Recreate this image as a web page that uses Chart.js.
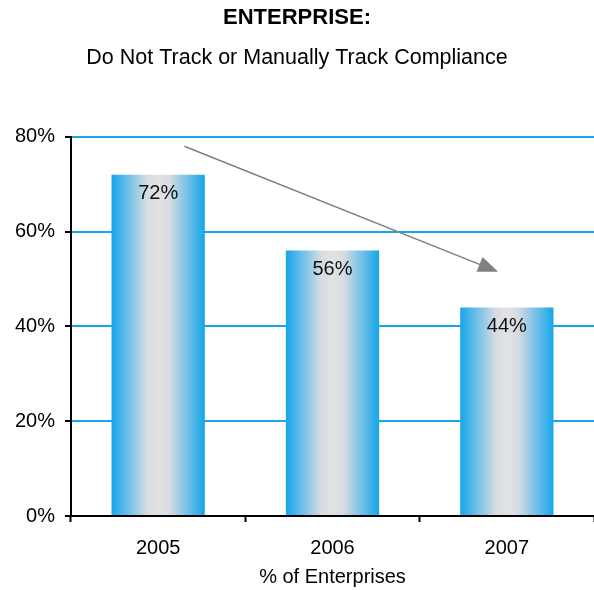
<!DOCTYPE html>
<html>
<head>
<meta charset="utf-8">
<script src="https://cdn.jsdelivr.net/npm/chart.js@4.4.0/dist/chart.umd.min.js"></script>
<style>
  html, body { margin: 0; padding: 0; background: #fff; overflow: hidden; }
  #wrap { width: 594px; height: 590px; position: relative; }
</style>
</head>
<body>
<div id="wrap"><canvas id="chart"></canvas></div>
<script>
const years = ['2005', '2006', '2007'];
const shares = [72, 56, 44];
const yTicks = [0, 20, 40, 60, 80];
// trend arrow, in data units (category index, percent)
const arrowFrom = [0.15, 78];
const arrowTo = [1.95, 51.5];

const FONT = "'Liberation Sans', Arial, sans-serif";
const GRID_BLUE = '#14a8e8';

function barGradient(context) {
  const chart = context.chart;
  const x = chart.scales.x;
  if (!chart.chartArea || !x) return '#16a6e8';
  const center = x.getPixelForValue(context.dataIndex);
  const half = (x.width / years.length) * 0.535 / 2;
  const g = chart.ctx.createLinearGradient(center - half, 0, center + half, 0);
  g.addColorStop(0, '#16a6e8');
  g.addColorStop(0.12, '#52b6ea');
  g.addColorStop(0.38, '#d6dce2');
  g.addColorStop(0.5, '#e2e2e2');
  g.addColorStop(0.62, '#d6dce2');
  g.addColorStop(0.88, '#52b6ea');
  g.addColorStop(1, '#16a6e8');
  return g;
}

const labelsPlugin = {
  id: 'valueLabels',
  afterDatasetsDraw(chart) {
    const { ctx } = chart;
    const meta = chart.getDatasetMeta(0);
    ctx.save();
    ctx.font = '20px ' + FONT;
    ctx.fillStyle = '#111';
    ctx.textAlign = 'center';
    ctx.textBaseline = 'middle';
    meta.data.forEach((bar, i) => {
      ctx.fillText(shares[i] + '%', bar.x, bar.y + 19);
    });
    ctx.restore();
  }
};

const arrowPlugin = {
  id: 'trendArrow',
  afterDraw(chart) {
    const { ctx, scales } = chart;
    const x1 = scales.x.getPixelForValue(arrowFrom[0]);
    const y1 = scales.y.getPixelForValue(arrowFrom[1]);
    const x2 = scales.x.getPixelForValue(arrowTo[0]);
    const y2 = scales.y.getPixelForValue(arrowTo[1]);
    const ang = Math.atan2(y2 - y1, x2 - x1);
    const head = 20, wing = 8;
    ctx.save();
    ctx.strokeStyle = '#808080';
    ctx.fillStyle = '#808080';
    ctx.lineWidth = 1.5;
    ctx.beginPath();
    ctx.moveTo(x1, y1);
    ctx.lineTo(x2 - head * 0.8 * Math.cos(ang), y2 - head * 0.8 * Math.sin(ang));
    ctx.stroke();
    const bx = x2 - head * Math.cos(ang), by = y2 - head * Math.sin(ang);
    ctx.beginPath();
    ctx.moveTo(x2, y2);
    ctx.lineTo(bx + wing * Math.sin(ang), by - wing * Math.cos(ang));
    ctx.lineTo(bx - wing * Math.sin(ang), by + wing * Math.cos(ang));
    ctx.closePath();
    ctx.fill();
    ctx.restore();
  }
};

new Chart(document.getElementById('chart'), {
  type: 'bar',
  data: {
    labels: years,
    datasets: [{
      data: shares,
      backgroundColor: barGradient,
      borderWidth: 0,
      barPercentage: 0.535,
      categoryPercentage: 1
    }]
  },
  options: {
    responsive: true,
    maintainAspectRatio: false,
    animation: false,
    layout: { padding: 0 },
    plugins: {
      legend: { display: false },
      tooltip: { enabled: false },
      title: {
        display: true,
        text: 'ENTERPRISE:',
        color: '#000',
        font: { family: FONT, size: 22, weight: 'bold' },
        padding: { top: 4.8, bottom: 13.6 }
      },
      subtitle: {
        display: true,
        text: 'Do Not Track or Manually Track Compliance',
        color: '#000',
        font: { family: FONT, size: 21.5 },
        padding: { top: 0, bottom: 66.1 }
      }
    },
    scales: {
      x: {
        grid: {
          display: true,
          drawOnChartArea: false,
          drawTicks: true,
          tickLength: 6,
          tickWidth: 2,
          tickColor: '#000',
          offset: true
        },
        border: { display: true, color: '#000', width: 2 },
        ticks: {
          color: '#000',
          font: { family: FONT, size: 20 },
          padding: 14
        },
        title: {
          display: true,
          text: '% of Enterprises',
          color: '#000',
          font: { family: FONT, size: 20 },
          padding: { top: 2, bottom: 1 }
        },
        afterFit(scale) { scale.height = 74; }
      },
      y: {
        min: 0,
        max: 80,
        afterBuildTicks(scale) { scale.ticks = yTicks.map(v => ({ value: v })); },
        grid: {
          color: GRID_BLUE,
          lineWidth: 2,
          drawTicks: true,
          tickLength: 6,
          tickColor: '#000',
          tickWidth: 2
        },
        border: { display: true, color: '#000', width: 2 },
        ticks: {
          color: '#000',
          font: { family: FONT, size: 20 },
          padding: 10,
          callback: v => v + '%'
        },
        afterFit(scale) { scale.width = 71; }
      }
    }
  },
  plugins: [labelsPlugin, arrowPlugin]
});
</script>
</body>
</html>
